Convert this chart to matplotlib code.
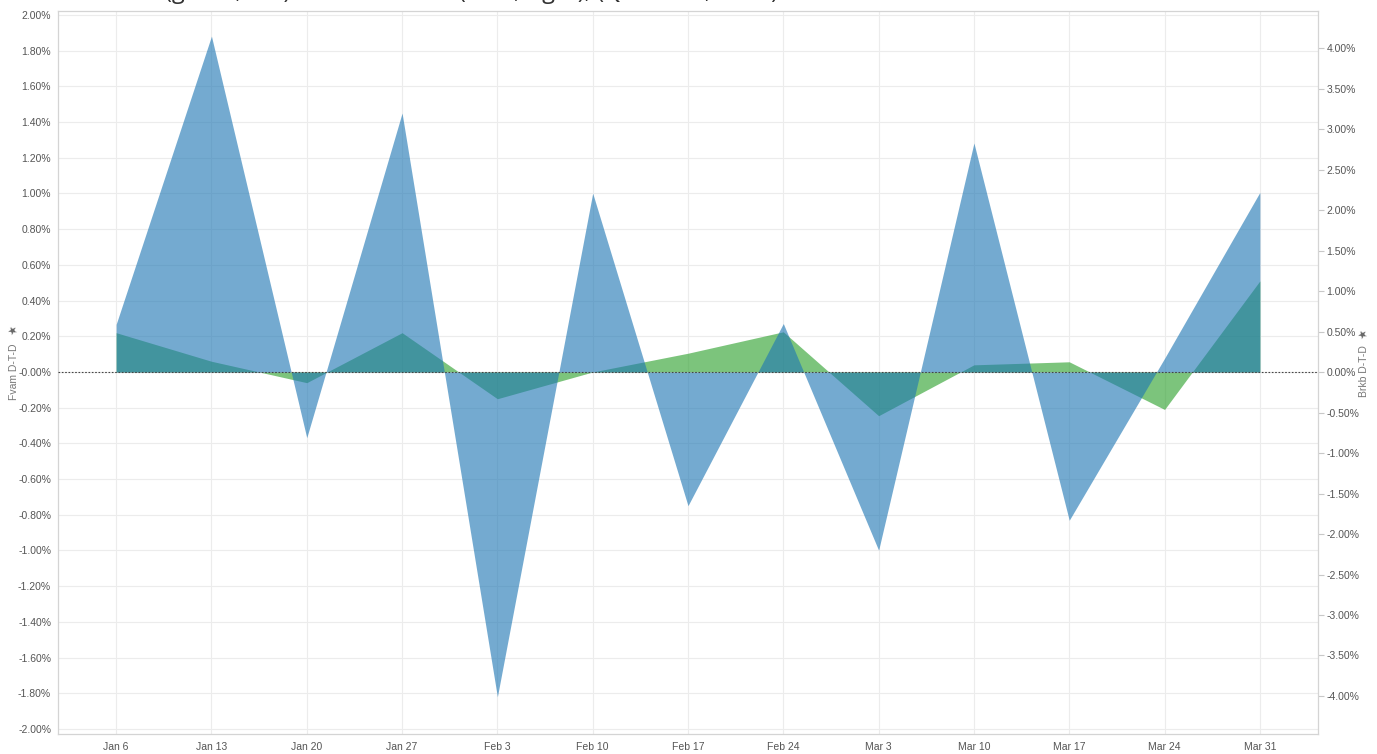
import matplotlib.pyplot as plt
import numpy as np

plt.rcParams['font.family'] = ['Liberation Sans', 'DejaVu Sans']

# weekly dates (labels) and the two D-T-D series, in percent
weeks = ["Jan 6", "Jan 13", "Jan 20", "Jan 27", "Feb 3", "Feb 10", "Feb 17",
         "Feb 24", "Mar 3", "Mar 10", "Mar 17", "Mar 24", "Mar 31"]
fvam = [0.22, 0.06, -0.06, 0.22, -0.15, 0.0, 0.105, 0.225, -0.245, 0.04, 0.057, -0.21, 0.51]
brkb = [0.59, 4.15, -0.81, 3.20, -4.01, 2.21, -1.65, 0.60, -2.20, 2.83, -1.83, 0.17, 2.22]

left_ticks = np.round(np.arange(-2.0, 2.01, 0.2), 2)
right_ticks = np.round(np.arange(-4.0, 4.01, 0.5), 2)

grey_txt = "#555555"
grid_c = "#ececec"

fig = plt.figure(figsize=(13.77, 7.54), dpi=100)
ax = fig.add_axes([58 / 1377, 20 / 754, 1260 / 1377, 723 / 754])
ax2 = ax.twinx()

x = np.arange(len(weeks))

# green series on the left axis, blue series on the right axis (drawn on top)
ax.fill_between(x, 0, fvam, color="tab:green", alpha=0.62, linewidth=0)
ax2.fill_between(x, 0, brkb, color="tab:blue", alpha=0.62, linewidth=0)
ax2.axhline(0, color="#444444", linestyle=(0, (1.5, 1.5)), linewidth=0.8, zorder=5)

ax.set_xlim(-0.61, 12.61)
ax.set_ylim(-2.028, 2.022)
ax2.set_ylim(-4.47, 4.46)

ax.set_xticks(x)
ax.set_xticklabels(weeks)
ax.set_yticks(left_ticks)
ax.set_yticklabels([f"{v:.2f}%" for v in left_ticks])
ax2.set_yticks(right_ticks)
ax2.set_yticklabels([f"{v:.2f}%" for v in right_ticks])

ax.grid(True, color=grid_c, linewidth=0.8)
ax.set_axisbelow(True)

ax.tick_params(axis="y", length=0, labelsize=7.5, labelcolor=grey_txt, pad=5)
ax.tick_params(axis="x", length=0, labelsize=7.5, labelcolor=grey_txt, pad=6)
ax2.tick_params(axis="y", length=4, color="#c8c8c8", labelsize=7.5,
                labelcolor=grey_txt, pad=2)

for a in (ax, ax2):
    for side in ("left", "right", "top", "bottom"):
        a.spines[side].set_color("#d4d4d4")
        a.spines[side].set_linewidth(0.8)

# axis titles with their pin icons
fig.text(14 / 1377, 1 - 372 / 754, "Fvam D-T-D", fontsize=7.5, color="#777777",
         rotation=90, ha="center", va="center")
fig.text(1364 / 1377, 1 - 371 / 754, "Brkb D-T-D", fontsize=7.5, color="#777777",
         rotation=90, ha="center", va="center")
fig.text(13 / 1377, 1 - 332 / 754, "★", fontsize=8, color="#666666",
         family="DejaVu Sans", ha="center", va="center", rotation=30)
fig.text(1363 / 1377, 1 - 336 / 754, "★", fontsize=8, color="#666666",
         family="DejaVu Sans", ha="center", va="center", rotation=30)

# title sits mostly above the visible area
fig.text(100 / 1377, 1 + 2 / 754,
         "Fvam (green, left) vs. Brkb D-T-D (blue, right), (Q1 D-T-D, 2019)",
         fontsize=17, family="Open Sans", color="#333333", va="baseline")

fig.savefig("out.png", dpi=100)
